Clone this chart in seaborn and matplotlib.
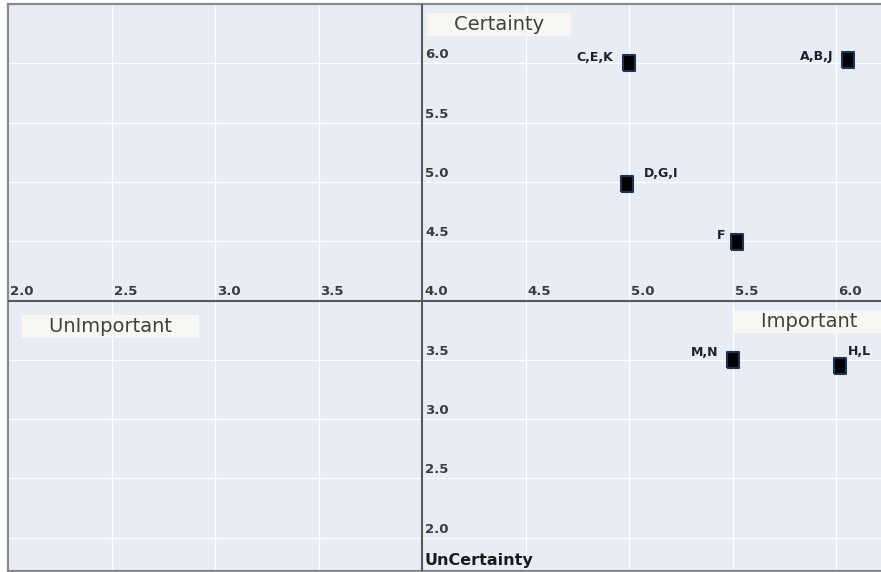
import numpy as np
import pandas as pd
import seaborn as sns
import matplotlib.pyplot as plt

# data
labels = ["A,B,J", "C,E,K", "D,G,I", "F", "H,L", "M,N"]
importance = [6.06, 5.0, 4.99, 5.52, 6.02, 5.5]
certainty = [6.03, 6.0, 4.98, 4.49, 3.45, 3.5]
x_ticks = [2.0, 2.5, 3.0, 3.5, 4.0, 4.5, 5.0, 5.5, 6.0]
y_ticks = [2.0, 2.5, 3.0, 3.5, 4.0, 4.5, 5.0, 5.5, 6.0]

df = pd.DataFrame({"label": labels, "importance": importance, "certainty": certainty})

sns.set_theme(style="darkgrid", rc={"axes.facecolor": "#e8edf5",
                                    "grid.color": "white",
                                    "grid.linewidth": 0.9})
plt.rcParams['font.family'] = ['DejaVu Sans']

fig = plt.figure(figsize=(8.81, 5.72), dpi=100)
ax = fig.add_axes([8 / 881, 1 / 572, 879.75 / 881, 566.9 / 572])

# tall rectangle marker
rect = [(-0.37, -0.5), (0.37, -0.5), (0.37, 0.5), (-0.37, 0.5), (-0.37, -0.5)]
sns.scatterplot(data=df, x="importance", y="certainty", marker=rect, s=120,
                color="black", edgecolor="#1f3354", linewidth=1.5, ax=ax, zorder=5)

ax.set_xlim(2.0, 6.25)
ax.set_ylim(1.72, 6.5)
ax.set_xticks(x_ticks)
ax.set_yticks(y_ticks)
ax.tick_params(labelbottom=False, labelleft=False, length=0)
ax.set_xlabel("")
ax.set_ylabel("")

for side in ["left", "top", "bottom", "right"]:
    ax.spines[side].set_color("#8a8a8a")
    ax.spines[side].set_linewidth(1.6)

# axes crossing at (4, 4)
ax.axhline(4.0, color="#595959", lw=1.5, zorder=3)
ax.axvline(4.0, color="#595959", lw=1.5, zorder=3)

tick_kw = dict(textcoords="offset pixels", ha="left", va="bottom",
               fontsize=9.5, fontweight="bold", color="#3b3b3b", zorder=4)
for t in x_ticks:
    ax.annotate(f"{t:.1f}", xy=(t, 4.0), xytext=(2, 3), **tick_kw)
for t in y_ticks:
    if t != 4.0:
        ax.annotate(f"{t:.1f}", xy=(4.0, t), xytext=(3, 2), **tick_kw)

# point labels
offs = {"A,B,J": (-15, 3, "right"), "C,E,K": (-16, 6, "right"),
        "D,G,I": (17, 11, "left"), "F": (-11, 7, "right"),
        "H,L": (8, 14, "left"), "M,N": (-14, 7, "right")}
for lab, x, y in zip(labels, importance, certainty):
    dx, dy, ha = offs[lab]
    ax.annotate(lab, xy=(x, y), xytext=(dx, dy), textcoords="offset pixels",
                ha=ha, va="center", fontsize=9, fontweight="bold",
                color="#1e1e2e", zorder=6)

# quadrant labels
box = dict(boxstyle="square,pad=0.1", fc="#f8f7f3", ec="none")
ax.text(4.37, 6.28, "    Certainty    ", ha="center", va="baseline",
        fontsize=14, color="#404040", bbox=box, zorder=6)
ax.text(2.495, 3.736, "    UnImportant    ", ha="center", va="baseline",
        fontsize=14, color="#404040", bbox=box, zorder=6)
ax.text(5.87, 3.78, "    Important    ", ha="center", va="baseline",
        fontsize=14, color="#404040", bbox=box, zorder=6)
ax.text(4.01, 1.774, "UnCertainty", ha="left", va="baseline",
        fontsize=11.5, fontweight="bold", color="#1a1a1a", zorder=6)

fig.savefig("out.png", dpi=100)
